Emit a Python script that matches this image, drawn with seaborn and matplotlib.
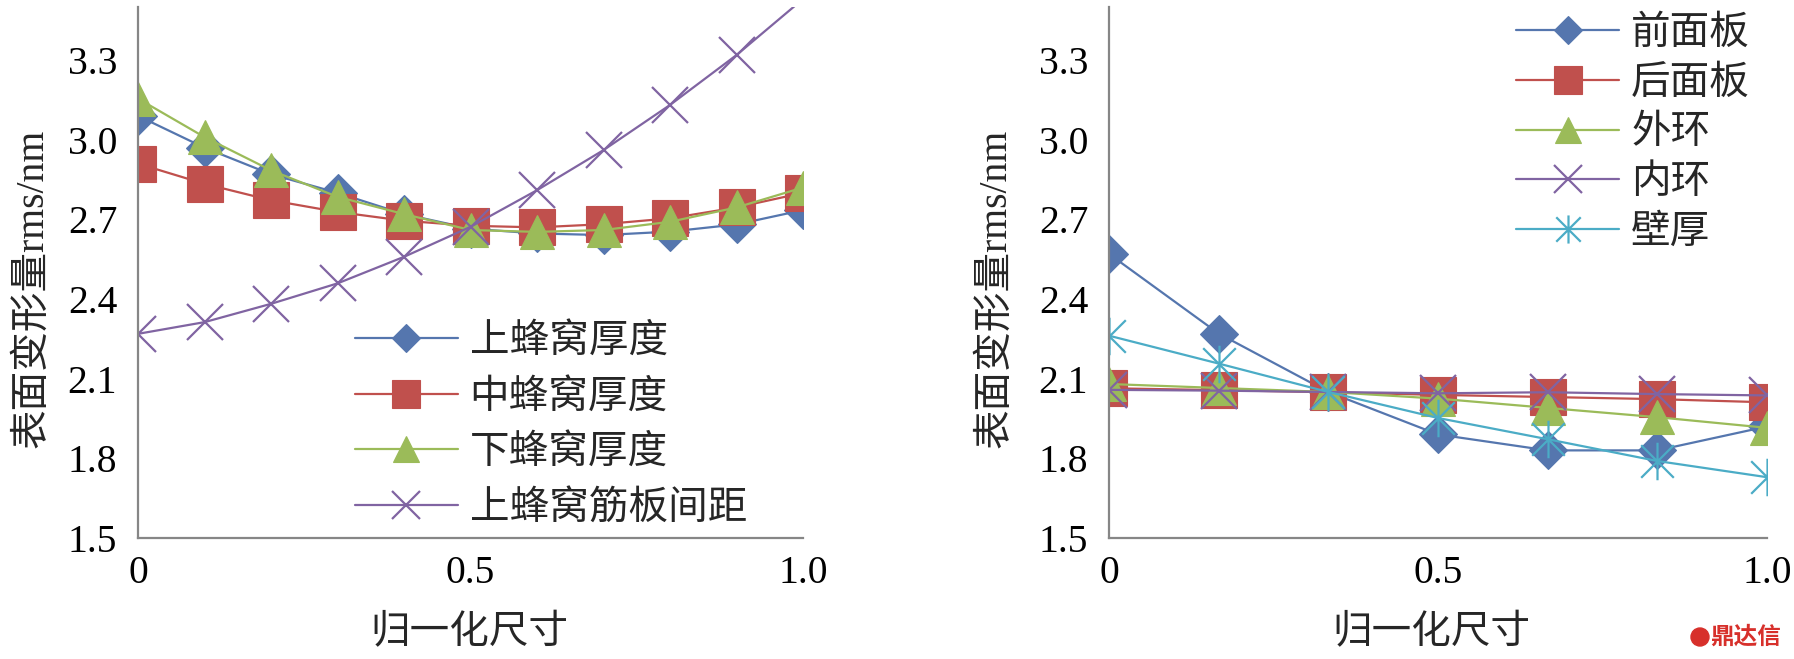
import numpy as np
import pandas as pd
import matplotlib
matplotlib.use("Agg")
import matplotlib.pyplot as plt
import seaborn as sns
from matplotlib.path import Path
from matplotlib.ticker import FixedLocator, FuncFormatter
from matplotlib.patches import Ellipse

# ---------------- data ----------------
left_x = [0.0, 0.1, 0.2, 0.3, 0.4, 0.5, 0.6, 0.7, 0.8, 0.9, 1.0]
left_upper_thick = [3.09, 2.97, 2.87, 2.80, 2.72, 2.665, 2.647, 2.641, 2.654, 2.681, 2.735]
left_middle_thick = [2.91, 2.834, 2.772, 2.728, 2.695, 2.676, 2.67, 2.682, 2.704, 2.745, 2.80]
left_lower_thick = [3.155, 3.01, 2.885, 2.785, 2.72, 2.66, 2.653, 2.66, 2.691, 2.745, 2.82]
left_rib_spacing = [2.269, 2.313, 2.382, 2.459, 2.559, 2.672, 2.81, 2.961, 3.131, 3.319, 3.53]
left_labels = ["上蜂窝厚度", "中蜂窝厚度", "下蜂窝厚度", "上蜂窝筋板间距"]

right_x = [0.0, 0.1667, 0.3333, 0.5, 0.6667, 0.8333, 1.0]
right_front = [2.57, 2.27, 2.05, 1.89, 1.83, 1.83, 1.92]
right_back = [2.064, 2.057, 2.049, 2.039, 2.031, 2.023, 2.011]
right_outer = [2.08, 2.065, 2.05, 2.025, 1.99, 1.955, 1.915]
right_inner = [2.058, 2.055, 2.05, 2.045, 2.049, 2.042, 2.037]
right_wall = [2.262, 2.157, 2.05, 1.952, 1.872, 1.79, 1.729]
right_labels = ["前面板", "后面板", "外环", "内环", "壁厚"]

y_ticks = [1.5, 1.8, 2.1, 2.4, 2.7, 3.0, 3.3]
x_ticks = [0.0, 0.5, 1.0]
x_label = "归一化尺寸"
y_label = "表面变形量rms/nm"
watermark = "鼎达信"

# ---------------- style ----------------
sns.set_style("white")
plt.rcParams["font.family"] = ["Liberation Serif", "Noto Sans CJK SC"]
plt.rcParams["axes.unicode_minus"] = False

COLORS = ["#5576AE", "#C0504D", "#9BBB59", "#8064A2", "#4BACC6"]
AXIS_GREY = "#868686"
FS = 28.5

asterisk = Path(
    [(-1, -1), (1, 1), (-1, 1), (1, -1), (0, -1.15), (0, 1.15)],
    [Path.MOVETO, Path.LINETO, Path.MOVETO, Path.LINETO, Path.MOVETO, Path.LINETO],
)
MARKERS = [("D", 19), ("s", 26), ("^", 25), ("x", 26), (asterisk, 27)]

YMIN, YMAX = 1.5, 3.5

fig = plt.figure(figsize=(17.94, 6.59), dpi=100)
axL = fig.add_axes([138 / 1794, 121 / 659, 665 / 1794, 531 / 659])
axR = fig.add_axes([1109 / 1794, 121 / 659, 658 / 1794, 531 / 659])


def draw(ax, xs, series, labels):
    for i, (ys, lab) in enumerate(zip(series, labels)):
        mk, ms = MARKERS[i]
        visible = [j for j, v in enumerate(ys) if v <= YMAX]
        sns.lineplot(
            x=xs, y=ys, ax=ax, color=COLORS[i], linewidth=1.6,
            marker=mk, markersize=ms, markeredgecolor=COLORS[i],
            markerfacecolor=COLORS[i], markeredgewidth=1.6 if i >= 3 else 0.8,
            markevery=visible, label=lab, sort=False, errorbar=None,
            legend=False,
        )


draw(axL, left_x, [left_upper_thick, left_middle_thick, left_lower_thick, left_rib_spacing], left_labels)
draw(axR, right_x, [right_front, right_back, right_outer, right_inner, right_wall], right_labels)

fmt_x = FuncFormatter(lambda v, p: "0" if abs(v) < 1e-9 else f"{v:.1f}")
fmt_y = FuncFormatter(lambda v, p: f"{v:.1f}")

for ax, lab_x in ((axL, 0.498), (axR, 0.49)):
    ax.set_xlim(0, 1.0)
    ax.set_ylim(YMIN, YMAX)
    ax.xaxis.set_major_locator(FixedLocator(x_ticks))
    ax.yaxis.set_major_locator(FixedLocator(y_ticks))
    ax.xaxis.set_major_formatter(fmt_x)
    ax.yaxis.set_major_formatter(fmt_y)
    for s in ("top", "right"):
        ax.spines[s].set_visible(False)
    for s in ("left", "bottom"):
        ax.spines[s].set_color(AXIS_GREY)
        ax.spines[s].set_linewidth(1.6)
    ax.tick_params(axis="both", direction="in", length=11, width=1.6,
                   color=AXIS_GREY, labelsize=FS, labelcolor="black")
    ax.tick_params(axis="y", pad=15)
    ax.tick_params(axis="x", pad=12)
    ax.set_xlabel(x_label, fontsize=FS)
    ax.set_ylabel(y_label, fontsize=FS)
    ax.xaxis.set_label_coords(lab_x, -0.145)
    ax.set_facecolor("white")

axL.yaxis.set_label_coords(-0.13, 0.47)
axR.yaxis.set_label_coords(-0.144, 0.47)

hL, lL = axL.get_legend_handles_labels()
axL.legend(hL, lL, loc="upper left", bbox_to_anchor=(0.326, 0.403), frameon=False,
           fontsize=FS, handlelength=2.6, handletextpad=0.3, labelspacing=0.47,
           borderpad=0, borderaxespad=0, markerscale=0.75)
hR, lR = axR.get_legend_handles_labels()
axR.legend(hR, lR, loc="upper left", bbox_to_anchor=(0.619, 0.983), frameon=False,
           fontsize=FS, handlelength=2.6, handletextpad=0.3, labelspacing=0.32,
           borderpad=0, borderaxespad=0, markerscale=0.75)

# watermark
fig.text(1710 / 1794, 1 - 637 / 659, watermark, color="#D7302B", fontsize=17,
         fontweight="bold", ha="left", va="center", family=["Noto Sans CJK SC"])
fig.patches.append(Ellipse((1700 / 1794, 1 - 637 / 659), 18 / 1794, 18 / 659,
                           transform=fig.transFigure, color="#D7302B", figure=fig))

fig.savefig("out.png", dpi=100, facecolor="white")
